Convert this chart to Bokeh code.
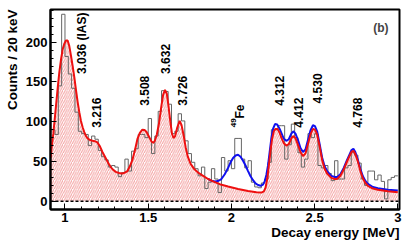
import numpy as np
from bokeh.plotting import figure
from bokeh.models import Range1d, SingleIntervalTicker, NumeralTickFormatter, Span, Label, Title
from bokeh.core.properties import value
from bokeh.embed import file_html
from bokeh.resources import INLINE

# ---------------- data ----------------
bin_low = 0.90
bin_width = 0.02
counts = [88, 90, 84, 145, 235, 182, 160, 142, 112, 88,
          85, 84, 70, 82, 78, 64, 56, 52, 43, 45,
          43, 31, 36, 53, 38, 63, 66, 84, 84, 80,
          104, 60, 82, 113, 139, 138, 122, 85, 88, 110,
          101, 76, 60, 49, 41, 32, 43, 16, 24, 41,
          28, 11, 55, 38, 51, 41, 79, 79, 53, 42,
          51, 24, 18, 17, 23, 28, 49, 90, 90, 95,
          95, 53, 71, 97, 80, 61, 43, 53, 85, 80,
          85, 45, 42, 45, 35, 26, 51, 28, 28, 42,
          45, 61, 58, 48, 28, 20, 38, 38, 27, 33,
          25, 3, 27, 30, 32]

red_x = [0.914, 0.920, 0.930, 0.946, 0.956, 0.966, 0.976, 0.986, 0.996, 1.006,
         1.016, 1.026, 1.036, 1.046, 1.056, 1.066, 1.076, 1.086, 1.096, 1.106,
         1.116, 1.126, 1.136, 1.150, 1.165, 1.180, 1.195, 1.210, 1.225, 1.245,
         1.260, 1.275, 1.290, 1.305, 1.325, 1.345, 1.360, 1.375, 1.390, 1.405,
         1.420, 1.435, 1.450, 1.465, 1.478, 1.490, 1.505, 1.520, 1.530, 1.540,
         1.552, 1.565, 1.578, 1.590, 1.601, 1.612, 1.622, 1.633, 1.643, 1.652,
         1.662, 1.675, 1.689, 1.700, 1.712, 1.725, 1.738, 1.755, 1.775, 1.800,
         1.830, 1.860, 1.890, 1.930, 1.980, 2.040, 2.100, 2.150, 2.180, 2.195,
         2.205, 2.215, 2.225, 2.235, 2.245, 2.255, 2.265, 2.277, 2.290, 2.300,
         2.315, 2.330, 2.345, 2.360, 2.372, 2.385, 2.400, 2.415, 2.430, 2.445,
         2.460, 2.475, 2.490, 2.502, 2.515, 2.530, 2.545, 2.560, 2.575, 2.600,
         2.620, 2.635, 2.655, 2.675, 2.695, 2.710, 2.722, 2.733, 2.745, 2.760,
         2.775, 2.790, 2.805, 2.820, 2.850, 2.880, 2.940, 3.000]
red_y = [55, 68, 85, 120, 142, 162, 178, 191, 198, 202,
         202, 195, 183, 170, 156, 140, 125, 112, 101, 93,
         87, 82, 79, 77, 76, 75.5, 74, 69, 62, 54,
         48, 43, 39.5, 37, 35.5, 35, 36, 38, 44, 52,
         64, 78, 86, 90, 89.5, 87, 81, 75, 73.5, 76,
         84, 98, 118, 134, 140, 135, 120, 100, 85, 79.5,
         82, 93, 101, 96, 84, 68, 56, 47, 41, 36,
         32, 28, 25, 21.5, 18.5, 15.5, 13, 11.5, 11, 12.5,
         17, 28, 45, 64, 79, 88, 91, 91, 86, 80,
         73, 70, 72, 79, 82, 79, 71, 62, 57, 60,
         72, 84, 91, 90, 84, 69, 52, 41, 35, 29.5,
         28, 28, 32, 40, 50, 57, 62, 63.5, 59, 50,
         38, 29, 23, 19.5, 16, 14.5, 12.5, 11.5]

blue_x = [1.860, 1.880, 1.900, 1.920, 1.940, 1.960, 1.980, 1.995, 2.010, 2.025,
          2.040, 2.055, 2.070, 2.085, 2.100, 2.115, 2.130, 2.145, 2.160, 2.175,
          2.190, 2.200, 2.210, 2.220, 2.230, 2.240, 2.250, 2.262, 2.275, 2.290,
          2.300, 2.315, 2.330, 2.345, 2.360, 2.372, 2.385, 2.400, 2.415, 2.430,
          2.445, 2.460, 2.475, 2.490, 2.502, 2.515, 2.530, 2.545, 2.560, 2.575,
          2.600, 2.620, 2.635, 2.655, 2.675, 2.695, 2.710, 2.722, 2.733, 2.745,
          2.760, 2.775, 2.790, 2.805, 2.820, 2.850, 2.880, 2.940, 3.000]
blue_y = [28, 26, 25, 25.5, 28, 34, 42, 49, 54.5, 57.5,
          58.5, 56, 51, 45, 38, 31.5, 26.5, 22.5, 20.5, 19.5,
          21, 25, 33, 45, 62, 79, 91, 97, 96.5, 91,
          86, 78.5, 76, 78, 85, 88, 85, 77, 67, 62,
          65, 77, 89, 95.5, 94.5, 88, 72, 55, 44, 38,
          32, 30.5, 30.5, 34, 42, 52, 59, 64.5, 66, 61.5,
          52, 40.5, 31.5, 25.5, 22, 18, 16.5, 14.5, 13.5]

level_texts = ["3.036 (IAS)", "3.216", "3.508", "3.632", "3.726",
               "4.312", "4.412", "4.530", "4.768"]
level_x = [1.102, 1.187, 1.475, 1.602, 1.707, 2.287, 2.403, 2.518, 2.760]
level_y = [160, 92.5, 120, 160, 120, 120, 92.5, 123, 92.5]

x_ticks_step = 0.5
y_ticks_step = 50

# ---------------- figure ----------------
FONT = "Liberation Sans"
p = figure(width=415, height=246, output_backend="svg", toolbar_location=None,
           x_range=Range1d(0.913, 3.01), y_range=Range1d(-10.3, 241),
           min_border_left=49, min_border_right=16, min_border_top=9, min_border_bottom=37)
p.background_fill_color = "white"
p.border_fill_color = "white"
p.grid.visible = False
p.outline_line_color = "black"
p.outline_line_width = 2

# hatched area under total fit
p.varea(x=red_x, y1=[0] * len(red_x), y2=red_y, fill_alpha=0,
        hatch_pattern="/", hatch_color="#e8403f", hatch_alpha=0.5,
        hatch_scale=4.5, hatch_weight=1)

# histogram
edges = bin_low + bin_width * np.arange(len(counts) + 1)
p.step(x=list(edges), y=counts + [counts[-1]], mode="after",
       line_color="#666666", line_width=1)

# zero line
p.add_layout(Span(location=0, dimension="width", line_color="black",
                  line_dash="3 2", line_width=1.6))

# fit curves
p.line(blue_x, blue_y, line_color="#1010ee", line_width=2)
p.line(red_x, red_y, line_color="#ee1010", line_width=2)

# level labels
p.text(x=level_x, y=level_y, text=level_texts, angle=np.pi / 2,
       text_font=value(FONT), text_font_style="bold", text_font_size=value("12px"),
       text_align="left", text_baseline="middle", text_color="black")
p.text(x=[2.049], y=[104], text=["Fe"], angle=np.pi / 2,
       text_font=value(FONT), text_font_style="bold", text_font_size=value("12px"),
       text_align="left", text_baseline="middle", text_color="black")
p.text(x=[2.014], y=[93], text=["49"], angle=np.pi / 2,
       text_font=value(FONT), text_font_style="bold", text_font_size=value("8px"),
       text_align="left", text_baseline="middle", text_color="black")

p.add_layout(Label(x=2.898, y=218, text="(b)", text_font=FONT, text_font_style="bold",
                   text_font_size="12px", text_align="center", text_baseline="middle"))

# axis titles (side-panel titles, aligned to the far end like ROOT)
p.add_layout(Title(text="Counts / 20 keV", align="right", text_font=FONT,
                   text_font_style="bold", text_font_size="13.5px", standoff=5,
                   text_color="black"), "left")
p.add_layout(Title(text="Decay energy [MeV]", align="right", vertical_align="top",
                   text_font=FONT, text_font_style="bold", text_font_size="13.5px",
                   standoff=0, text_color="black"), "below")

# axes
p.xaxis.ticker = SingleIntervalTicker(interval=x_ticks_step, num_minor_ticks=5)
p.yaxis.ticker = SingleIntervalTicker(interval=y_ticks_step, num_minor_ticks=5)
p.xaxis.formatter = NumeralTickFormatter(format="0.[0]")
for ax in (p.xaxis, p.yaxis):
    ax.axis_line_color = "black"
    ax.axis_line_width = 2
    ax.major_tick_in = 6
    ax.major_tick_out = 0
    ax.minor_tick_in = 3
    ax.minor_tick_out = 0
    ax.major_tick_line_width = 1
    ax.minor_tick_line_width = 1
    ax.major_label_text_font = FONT
    ax.major_label_text_font_style = "bold"
    ax.major_label_text_font_size = "13px"
    ax.major_label_text_color = "black"
p.yaxis.major_label_standoff = 3
p.xaxis.major_label_standoff = 3

open("out.html", "w").write(file_html(p, INLINE))
